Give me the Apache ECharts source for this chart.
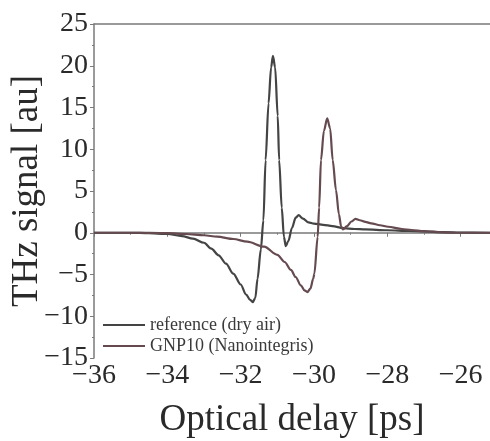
<!DOCTYPE html>
<html>
<head>
<meta charset="utf-8">
<script src="https://cdn.jsdelivr.net/npm/echarts@6/dist/echarts.min.js"></script>
<style>
  html, body { margin: 0; padding: 0; background: #fff; }
  #chart { width: 490px; height: 441px; }
</style>
</head>
<body>
<div id="chart"></div>
<script>
// x-axis ticks and range (optical delay, ps)
const xTicks = [-36, -34, -32, -30, -28, -26];
const yTicks = [-15, -10, -5, 0, 5, 10, 15, 20, 25];

// reference (dry air)
const refX = [-36, -35, -34.5, -34, -33.6, -33.3, -33.0, -32.8, -32.6, -32.4, -32.2, -32.0, -31.85, -31.75, -31.67, -31.6, -31.54, -31.45, -31.38, -31.32, -31.24, -31.17, -31.12, -31.06, -30.99, -30.95, -30.88, -30.82, -30.77, -30.7, -30.6, -30.5, -30.42, -30.3, -30.15, -30.0, -29.75, -29.5, -29.2, -28.9, -28.6, -28.0, -27.4, -27.0, -26.5, -26.0, -25.2];
const refY = [0, 0, -0.05, -0.15, -0.4, -0.7, -1.2, -1.9, -2.7, -3.7, -4.9, -6.2, -7.4, -8.0, -8.3, -7.8, -5.5, -2.0, 1.5, 8.7, 15.5, 19.8, 21.2, 19.8, 14, 8.7, 3, -0.5, -1.6, -1.0, 0.6, 1.8, 2.1, 1.7, 1.25, 1.1, 0.95, 0.8, 0.55, 0.45, 0.4, 0.3, 0.22, 0.15, 0.08, 0.03, 0];

// GNP10 (Nanointegris)
const gnpX = [-36, -35, -34, -33.5, -33.0, -32.64, -32.2, -31.82, -31.36, -31.0, -30.8, -30.63, -30.5, -30.36, -30.26, -30.18, -30.1, -30.02, -29.99, -29.9, -29.86, -29.81, -29.73, -29.64, -29.56, -29.49, -29.4, -29.32, -29.26, -29.21, -29.1, -28.98, -28.87, -28.75, -28.6, -28.44, -28.2, -27.98, -27.6, -27.34, -27.0, -26.5, -26.0, -25.2];
const gnpY = [0, 0, -0.05, -0.15, -0.3, -0.47, -0.75, -1.07, -1.67, -2.65, -3.5, -4.45, -5.3, -6.3, -6.9, -7.1, -6.7, -5.5, -4.9, -0.5, 3, 8.7, 12.2, 13.7, 12.5, 8.7, 5.1, 2.2, 0.75, 0.4, 0.8, 1.35, 1.65, 1.5, 1.3, 1.13, 0.9, 0.72, 0.45, 0.33, 0.2, 0.05, 0, 0];

const X_MIN = -36, X_MAX = -25.2;
const FONT = "Liberation Serif";

const pair = (xs, ys) => xs.map((x, i) => [x, ys[i]]);

const chart = echarts.init(document.getElementById("chart"), null, { renderer: "canvas" });

const axisLine = { show: true, lineStyle: { color: "#7a7a7a", width: 1.5 } };

chart.setOption({
  backgroundColor: "#fff",
  animation: false,
  grid: { left: 94, right: 0, top: 24, bottom: 83, outerBoundsMode: "none", containLabel: false },
  legend: {
    orient: "vertical",
    left: 98,
    top: 311,
    icon: "rect",
    itemWidth: 42,
    itemHeight: 2,
    itemGap: 3,
    textStyle: { fontFamily: FONT, fontSize: 18, color: "#3a3a3a" },
    data: ["reference (dry air)", "GNP10 (Nanointegris)"],
  },
  xAxis: [
    {
      type: "value",
      min: X_MIN,
      max: X_MAX,
      interval: 2,
      axisLine,
      axisTick: { show: true, length: 4, lineStyle: { color: "#7a7a7a" } },
      minorTick: { show: true, splitNumber: 2, length: 2, lineStyle: { color: "#7a7a7a" } },
      splitLine: { show: false },
      axisLabel: {
        fontFamily: FONT,
        fontSize: 28,
        color: "#2a2a2a",
        margin: 4,
        showMaxLabel: false,
        formatter: (v) => (xTicks.includes(v) ? String(v).replace("-", "\u2212") : ""),
      },
      name: "Optical delay [ps]",
      nameLocation: "middle",
      nameGap: 44,
      nameMoveOverlap: false,
      nameTextStyle: { fontFamily: FONT, fontSize: 37, color: "#2a2a2a" },
    },
    {
      type: "value",
      position: "top",
      min: X_MIN,
      max: X_MAX,
      axisLine,
      axisTick: { show: false },
      axisLabel: { show: false },
      splitLine: { show: false },
    },
  ],
  yAxis: {
    type: "value",
    min: yTicks[0],
    max: yTicks[yTicks.length - 1],
    interval: 5,
    axisLine,
    axisTick: { show: true, length: 4, lineStyle: { color: "#7a7a7a" } },
    minorTick: { show: true, splitNumber: 2, length: 2, lineStyle: { color: "#7a7a7a" } },
    splitLine: { show: false },
    axisLabel: {
      fontFamily: FONT,
      fontSize: 28,
      color: "#2a2a2a",
      margin: 6,
      formatter: (v) => String(v).replace("-", "\u2212"),
    },
    name: "THz signal [au]",
    nameLocation: "middle",
    nameGap: 48,
    nameMoveOverlap: false,
    nameTextStyle: { fontFamily: FONT, fontSize: 37, color: "#2a2a2a" },
  },
  series: [
    {
      name: "reference (dry air)",
      type: "line",
      data: pair(refX, refY),
      symbol: "none",
      smooth: 0.3,
      smoothMonotone: "x",
      lineStyle: { color: "#444444", width: 2.2 },
      itemStyle: { color: "#444444" },
    },
    {
      name: "GNP10 (Nanointegris)",
      type: "line",
      data: pair(gnpX, gnpY),
      symbol: "none",
      smooth: 0.3,
      smoothMonotone: "x",
      lineStyle: { color: "#654a50", width: 2.2 },
      itemStyle: { color: "#654a50" },
    },
  ],
});
</script>
</body>
</html>
